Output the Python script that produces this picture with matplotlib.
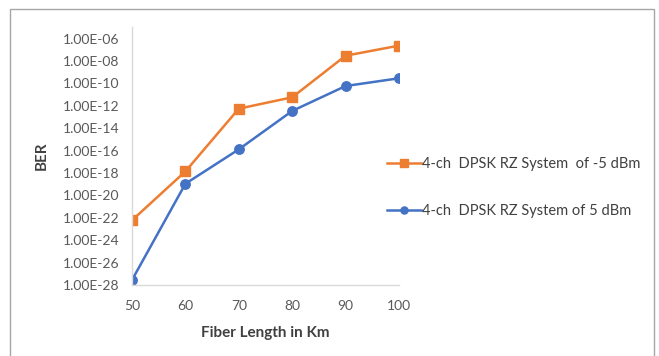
import numpy as np
import matplotlib
matplotlib.use("Agg")
import matplotlib.pyplot as plt
from matplotlib.ticker import FixedLocator, FuncFormatter, NullLocator
from matplotlib.patches import Rectangle

# fiber length (km)
fiber_len = [50, 60, 70, 80, 90, 100]
# BER values
ber_minus5 = [6e-23, 1.4e-18, 5.6e-13, 5.8e-12, 3e-8, 2.4e-7]
ber_plus5 = [2.8e-28, 1.1e-19, 1.3e-16, 3.5e-13, 5.9e-11, 2.9e-10]
labels = ["4-ch  DPSK RZ System  of -5 dBm", "4-ch  DPSK RZ System of 5 dBm"]
y_exps = list(range(-28, -5, 2))

plt.rcParams['font.family'] = ['Lato', 'DejaVu Sans']

fig = plt.figure(figsize=(6.59, 3.56), dpi=100)
W, H = 659, 356

# outer chart frame
fig.patches.append(Rectangle((10 / W, -0.05), (654 - 10) / W, 1 - 9 / H + 0.05,
                             transform=fig.transFigure, fill=False,
                             edgecolor="#a6a6a6", linewidth=1.0))

ax = fig.add_axes([132 / W, 1 - 285 / H, (399 - 132) / W, (285 - 27) / H])

ax.plot(fiber_len, ber_minus5, color="#ED7D31", marker="s", markersize=6.8,
        linewidth=1.8, label=labels[0])
ax.plot(fiber_len, ber_plus5, color="#4472C4", marker="o", markersize=6.8,
        linewidth=1.8, label=labels[1])

ax.set_yscale("log")
ax.set_ylim(1e-28, 1.1e-5)
ax.set_xlim(50, 100)
ax.yaxis.set_major_locator(FixedLocator([10.0 ** e for e in y_exps]))
ax.yaxis.set_minor_locator(NullLocator())
ax.yaxis.set_major_formatter(FuncFormatter(
    lambda v, p: "1.00E%03d" % int(round(np.log10(v)))))
ax.set_xticks(fiber_len)

for s in ["top", "right"]:
    ax.spines[s].set_visible(False)
for s in ["left", "bottom"]:
    ax.spines[s].set_color("#d9d9d9")
    ax.spines[s].set_linewidth(1.0)
ax.tick_params(axis="both", length=0, labelsize=10, colors="#595959")
ax.tick_params(axis="y", pad=9)
ax.tick_params(axis="x", pad=11)

ax.set_ylabel("BER", fontsize=11, fontweight="bold", color="#404040", labelpad=10)
ax.set_xlabel("Fiber Length in Km", fontsize=11, fontweight="bold",
              color="#404040", labelpad=10)

fig.legend(loc="upper left", bbox_to_anchor=(374 / W, 1 - 144 / H),
           frameon=False, fontsize=10.5, labelspacing=2.25, handlelength=2.3,
           handletextpad=0.1, markerscale=0.75, labelcolor="#404040")

plt.savefig("out.png", dpi=100)
